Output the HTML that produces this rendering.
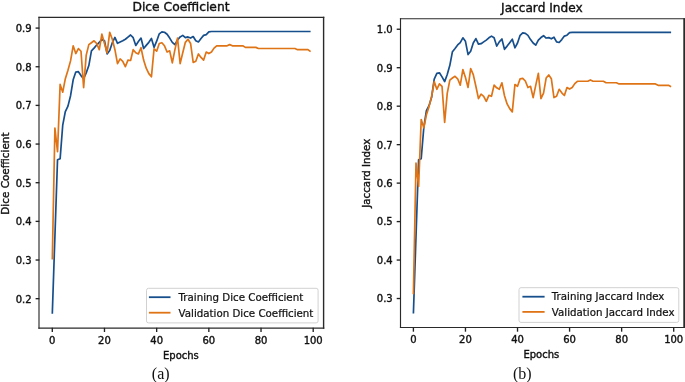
<!DOCTYPE html>
<html lang="en"><head><meta charset="utf-8"><title>Dice Coefficient and Jaccard Index</title>
<style>
html,body{margin:0;padding:0;background:#fff;}
body{width:685px;height:382px;overflow:hidden;}
svg{display:block;}
</style></head><body>
<svg width="685" height="382" viewBox="0 0 685 382">
<rect width="685" height="382" fill="#fff"/>
<polyline points="52.30,313.69 54.91,236.38 57.52,159.84 60.13,158.68 62.74,125.05 65.34,111.53 67.95,106.11 70.56,95.68 73.17,79.83 75.78,72.10 78.39,71.71 81.00,75.58 83.61,78.67 86.22,72.87 88.83,65.53 91.44,50.84 94.04,48.13 96.65,45.04 99.26,42.33 101.87,39.63 104.48,40.79 107.09,53.93 109.70,50.45 112.31,42.72 114.92,37.42 117.52,43.30 120.13,41.95 122.74,40.79 125.35,39.24 127.96,37.08 130.57,34.99 133.18,37.69 135.79,45.42 138.40,41.56 141.01,38.08 143.62,48.52 146.22,45.42 148.83,42.33 151.44,38.47 154.05,47.36 156.66,41.17 159.27,33.83 161.88,31.90 164.49,32.28 167.10,34.21 169.70,38.08 172.31,42.33 174.92,44.65 177.53,40.01 180.14,36.92 182.75,35.37 185.36,37.69 187.97,36.92 190.58,38.08 193.19,36.53 195.80,40.79 198.40,41.95 201.01,38.47 203.62,35.37 206.23,34.60 208.84,31.90 211.45,31.51 214.06,31.51 216.67,31.51 219.28,31.51 221.88,31.51 224.49,31.51 227.10,31.51 229.71,31.51 232.32,31.51 234.93,31.51 237.54,31.51 240.15,31.51 242.76,31.51 245.37,31.51 247.98,31.51 250.58,31.51 253.19,31.51 255.80,31.51 258.41,31.51 261.02,31.51 263.63,31.51 266.24,31.51 268.85,31.51 271.46,31.51 274.06,31.51 276.67,31.51 279.28,31.51 281.89,31.51 284.50,31.51 287.11,31.51 289.72,31.51 292.33,31.51 294.94,31.51 297.55,31.51 300.15,31.51 302.76,31.51 305.37,31.51 307.98,31.51 310.59,31.51" fill="none" stroke="#174f8c" stroke-width="1.7" stroke-linejoin="round" stroke-linecap="butt"/>
<polyline points="52.30,259.57 54.91,128.15 57.52,151.73 60.13,84.47 62.74,92.20 65.34,78.67 67.95,70.16 70.56,60.89 73.17,45.81 75.78,53.54 78.39,48.52 81.00,51.22 83.61,87.56 86.22,55.09 88.83,44.65 91.44,42.72 94.04,40.79 96.65,43.49 99.26,49.68 101.87,34.21 104.48,43.49 107.09,52.77 109.70,32.28 112.31,39.24 114.92,49.68 117.52,63.59 120.13,58.95 122.74,61.27 125.35,66.69 127.96,60.11 130.57,60.50 133.18,49.68 135.79,52.77 138.40,53.93 141.01,47.74 143.62,60.11 146.22,68.23 148.83,73.64 151.44,76.74 154.05,48.90 156.66,51.22 159.27,43.49 161.88,42.72 164.49,45.81 167.10,52.00 169.70,50.84 172.31,62.82 174.92,49.68 177.53,38.08 180.14,63.59 182.75,52.77 185.36,42.33 187.97,39.24 190.58,43.49 193.19,62.43 195.80,61.27 198.40,53.93 201.01,57.41 203.62,60.11 206.23,52.00 208.84,53.54 211.45,52.00 214.06,48.13 216.67,45.81 219.28,45.81 221.88,45.81 224.49,45.81 227.10,45.81 229.71,44.65 232.32,45.81 234.93,45.81 237.54,45.81 240.15,45.81 242.76,45.81 245.37,47.36 247.98,47.36 250.58,47.36 253.19,47.36 255.80,47.36 258.41,48.52 261.02,48.52 263.63,48.52 266.24,48.52 268.85,48.52 271.46,48.52 274.06,48.52 276.67,48.52 279.28,48.52 281.89,48.52 284.50,48.52 287.11,48.52 289.72,48.52 292.33,48.52 294.94,48.52 297.55,49.68 300.15,49.68 302.76,49.68 305.37,49.68 307.98,49.68 310.59,51.61" fill="none" stroke="#df7417" stroke-width="1.7" stroke-linejoin="round" stroke-linecap="butt"/>
<rect x="146.5" y="288.3" width="171.6" height="34.6" rx="2" ry="2" fill="#fff" fill-opacity="0.8" stroke="#ccc" stroke-width="0.9"/>
<line x1="148.9" x2="170.5" y1="297.2" y2="297.2" stroke="#174f8c" stroke-width="1.8"/>
<text x="178.6" y="301.4" font-size="10.25" font-family="DejaVu Sans, Liberation Sans, sans-serif" stroke="#111" stroke-width="0.22" fill="#111">Training Dice Coefficient</text>
<line x1="148.9" x2="170.5" y1="312.7" y2="312.7" stroke="#df7417" stroke-width="1.8"/>
<text x="178.6" y="316.9" font-size="10.25" font-family="DejaVu Sans, Liberation Sans, sans-serif" stroke="#111" stroke-width="0.22" fill="#111">Validation Dice Coefficient</text>
<line x1="39.0" x2="39.0" y1="16.675" y2="328.84999999999997" stroke="#2a2a2a" stroke-width="1.15"/>
<line x1="323.6" x2="323.6" y1="16.675" y2="328.84999999999997" stroke="#2a2a2a" stroke-width="1.4"/>
<line x1="38.425" x2="324.3" y1="17.3" y2="17.3" stroke="#2a2a2a" stroke-width="1.25"/>
<line x1="38.425" x2="324.3" y1="328.15" y2="328.15" stroke="#2a2a2a" stroke-width="1.4"/>
<line x1="52.30" x2="52.30" y1="327.8" y2="332.0" stroke="#222" stroke-width="1.35"/>
<text x="52.30" y="343.90" font-size="10" text-anchor="middle" font-family="DejaVu Sans, Liberation Sans, sans-serif" stroke="#111" stroke-width="0.38" fill="#111">0</text>
<line x1="104.48" x2="104.48" y1="327.8" y2="332.0" stroke="#222" stroke-width="1.35"/>
<text x="104.48" y="343.90" font-size="10" text-anchor="middle" font-family="DejaVu Sans, Liberation Sans, sans-serif" stroke="#111" stroke-width="0.38" fill="#111">20</text>
<line x1="156.66" x2="156.66" y1="327.8" y2="332.0" stroke="#222" stroke-width="1.35"/>
<text x="156.66" y="343.90" font-size="10" text-anchor="middle" font-family="DejaVu Sans, Liberation Sans, sans-serif" stroke="#111" stroke-width="0.38" fill="#111">40</text>
<line x1="208.84" x2="208.84" y1="327.8" y2="332.0" stroke="#222" stroke-width="1.35"/>
<text x="208.84" y="343.90" font-size="10" text-anchor="middle" font-family="DejaVu Sans, Liberation Sans, sans-serif" stroke="#111" stroke-width="0.38" fill="#111">60</text>
<line x1="261.02" x2="261.02" y1="327.8" y2="332.0" stroke="#222" stroke-width="1.35"/>
<text x="261.02" y="343.90" font-size="10" text-anchor="middle" font-family="DejaVu Sans, Liberation Sans, sans-serif" stroke="#111" stroke-width="0.38" fill="#111">80</text>
<line x1="313.20" x2="313.20" y1="327.8" y2="332.0" stroke="#222" stroke-width="1.35"/>
<text x="313.20" y="343.90" font-size="10" text-anchor="middle" font-family="DejaVu Sans, Liberation Sans, sans-serif" stroke="#111" stroke-width="0.38" fill="#111">100</text>
<line x1="35.6" x2="39.4" y1="298.68" y2="298.68" stroke="#222" stroke-width="1.35"/>
<text x="31.60" y="302.53" font-size="10" text-anchor="end" font-family="DejaVu Sans, Liberation Sans, sans-serif" stroke="#111" stroke-width="0.38" fill="#111">0.2</text>
<line x1="35.6" x2="39.4" y1="260.02" y2="260.02" stroke="#222" stroke-width="1.35"/>
<text x="31.60" y="263.87" font-size="10" text-anchor="end" font-family="DejaVu Sans, Liberation Sans, sans-serif" stroke="#111" stroke-width="0.38" fill="#111">0.3</text>
<line x1="35.6" x2="39.4" y1="221.37" y2="221.37" stroke="#222" stroke-width="1.35"/>
<text x="31.60" y="225.22" font-size="10" text-anchor="end" font-family="DejaVu Sans, Liberation Sans, sans-serif" stroke="#111" stroke-width="0.38" fill="#111">0.4</text>
<line x1="35.6" x2="39.4" y1="182.71" y2="182.71" stroke="#222" stroke-width="1.35"/>
<text x="31.60" y="186.56" font-size="10" text-anchor="end" font-family="DejaVu Sans, Liberation Sans, sans-serif" stroke="#111" stroke-width="0.38" fill="#111">0.5</text>
<line x1="35.6" x2="39.4" y1="144.06" y2="144.06" stroke="#222" stroke-width="1.35"/>
<text x="31.60" y="147.91" font-size="10" text-anchor="end" font-family="DejaVu Sans, Liberation Sans, sans-serif" stroke="#111" stroke-width="0.38" fill="#111">0.6</text>
<line x1="35.6" x2="39.4" y1="105.40" y2="105.40" stroke="#222" stroke-width="1.35"/>
<text x="31.60" y="109.25" font-size="10" text-anchor="end" font-family="DejaVu Sans, Liberation Sans, sans-serif" stroke="#111" stroke-width="0.38" fill="#111">0.7</text>
<line x1="35.6" x2="39.4" y1="66.75" y2="66.75" stroke="#222" stroke-width="1.35"/>
<text x="31.60" y="70.60" font-size="10" text-anchor="end" font-family="DejaVu Sans, Liberation Sans, sans-serif" stroke="#111" stroke-width="0.38" fill="#111">0.8</text>
<line x1="35.6" x2="39.4" y1="28.09" y2="28.09" stroke="#222" stroke-width="1.35"/>
<text x="31.60" y="31.94" font-size="10" text-anchor="end" font-family="DejaVu Sans, Liberation Sans, sans-serif" stroke="#111" stroke-width="0.38" fill="#111">0.9</text>
<text x="181.00" y="10.7" font-size="12.3" text-anchor="middle" font-family="DejaVu Sans, Liberation Sans, sans-serif" stroke="#111" stroke-width="0.38" fill="#111">Dice Coefficient</text>
<text x="180.90" y="358.60" font-size="10" text-anchor="middle" font-family="DejaVu Sans, Liberation Sans, sans-serif" stroke="#111" stroke-width="0.38" fill="#111">Epochs</text>
<text transform="translate(9.2,173.60) rotate(-90)" font-size="10.45" text-anchor="middle" font-family="DejaVu Sans, Liberation Sans, sans-serif" stroke="#111" stroke-width="0.38" fill="#111">Dice Coefficient</text>
<polyline points="413.40,313.46 416.00,236.52 418.61,159.82 421.21,158.70 423.81,127.50 426.41,110.73 429.02,105.73 431.62,97.27 434.22,79.19 436.83,73.42 439.43,72.80 442.03,76.88 444.64,81.61 447.24,74.57 449.84,65.34 452.44,51.68 455.05,48.41 457.65,44.95 460.25,42.64 462.86,37.80 465.46,41.30 468.06,54.57 470.67,51.30 473.27,43.03 475.87,38.60 478.47,44.18 481.08,43.68 483.68,41.87 486.28,40.14 488.89,37.80 491.49,36.10 494.09,37.80 496.70,46.10 499.30,41.87 501.90,38.99 504.50,49.34 507.11,46.10 509.71,42.64 512.31,39.18 514.92,47.80 517.52,43.03 520.12,35.33 522.73,32.83 525.33,33.41 527.93,35.33 530.53,39.57 533.14,43.03 535.74,45.18 538.34,40.14 540.95,37.53 543.55,35.72 546.15,38.03 548.76,37.64 551.36,38.80 553.96,37.26 556.57,41.87 559.17,42.49 561.77,39.57 564.37,36.10 566.98,35.22 569.58,32.64 572.18,32.45 574.79,32.45 577.39,32.45 579.99,32.45 582.60,32.45 585.20,32.45 587.80,32.45 590.40,32.45 593.01,32.45 595.61,32.45 598.21,32.45 600.82,32.45 603.42,32.45 606.02,32.45 608.62,32.45 611.23,32.45 613.83,32.45 616.43,32.45 619.04,32.45 621.64,32.45 624.24,32.45 626.85,32.45 629.45,32.45 632.05,32.45 634.65,32.45 637.26,32.45 639.86,32.45 642.46,32.45 645.07,32.45 647.67,32.45 650.27,32.45 652.88,32.45 655.48,32.45 658.08,32.45 660.68,32.45 663.29,32.45 665.89,32.45 668.49,32.45 671.10,32.45" fill="none" stroke="#174f8c" stroke-width="1.7" stroke-linejoin="round" stroke-linecap="butt"/>
<polyline points="413.40,294.22 416.00,163.05 418.61,186.51 421.21,119.58 423.81,127.81 426.41,114.85 429.02,106.62 431.62,96.50 434.22,81.61 436.83,89.27 439.43,83.80 442.03,86.30 444.64,122.50 447.24,93.42 449.84,80.07 452.44,78.03 455.05,76.30 457.65,78.80 460.25,85.11 462.86,69.57 465.46,77.46 468.06,87.50 470.67,68.61 473.27,74.57 475.87,86.30 478.47,98.61 481.08,94.19 483.68,96.31 486.28,101.31 488.89,95.34 491.49,96.31 494.09,85.11 496.70,87.80 499.30,89.27 501.90,82.77 504.50,95.73 507.11,103.92 509.71,108.65 512.31,111.89 514.92,84.57 517.52,86.30 520.12,78.80 522.73,78.42 525.33,81.00 527.93,87.50 530.53,86.30 533.14,97.65 535.74,85.34 538.34,73.42 540.95,98.61 543.55,93.04 546.15,78.03 548.76,74.96 551.36,78.80 553.96,97.58 556.57,96.31 559.17,89.27 561.77,92.81 564.37,95.50 566.98,87.50 569.58,89.04 572.18,87.50 574.79,83.61 577.39,81.26 579.99,81.26 582.60,81.26 585.20,81.26 587.80,81.26 590.40,79.96 593.01,81.26 595.61,81.26 598.21,81.26 600.82,81.26 603.42,81.26 606.02,82.77 608.62,82.77 611.23,82.77 613.83,82.77 616.43,82.77 619.04,83.96 621.64,83.96 624.24,83.96 626.85,83.96 629.45,83.96 632.05,83.96 634.65,83.96 637.26,83.96 639.86,83.96 642.46,83.96 645.07,83.96 647.67,83.96 650.27,83.96 652.88,83.96 655.48,83.96 658.08,85.34 660.68,85.34 663.29,85.34 665.89,85.34 668.49,85.34 671.10,86.69" fill="none" stroke="#df7417" stroke-width="1.7" stroke-linejoin="round" stroke-linecap="butt"/>
<rect x="519.0" y="287.7" width="159.8" height="34.7" rx="2" ry="2" fill="#fff" fill-opacity="0.8" stroke="#ccc" stroke-width="0.9"/>
<line x1="522.4" x2="544.6" y1="296.7" y2="296.7" stroke="#174f8c" stroke-width="1.8"/>
<text x="551.8" y="300.4" font-size="10.25" font-family="DejaVu Sans, Liberation Sans, sans-serif" stroke="#111" stroke-width="0.22" fill="#111">Training Jaccard Index</text>
<line x1="522.4" x2="544.6" y1="311.9" y2="311.9" stroke="#df7417" stroke-width="1.8"/>
<text x="551.8" y="315.59999999999997" font-size="10.25" font-family="DejaVu Sans, Liberation Sans, sans-serif" stroke="#111" stroke-width="0.22" fill="#111">Validation Jaccard Index</text>
<line x1="400.5" x2="400.5" y1="18.175" y2="328.075" stroke="#2a2a2a" stroke-width="1.15"/>
<line x1="684.2" x2="684.2" y1="18.175" y2="328.075" stroke="#2a2a2a" stroke-width="1.8"/>
<line x1="399.925" x2="685.1" y1="18.75" y2="18.75" stroke="#2a2a2a" stroke-width="1.15"/>
<line x1="399.925" x2="685.1" y1="327.5" y2="327.5" stroke="#2a2a2a" stroke-width="1.15"/>
<line x1="413.40" x2="413.40" y1="327.5" y2="331.7" stroke="#222" stroke-width="1.35"/>
<text x="413.40" y="342.70" font-size="10" text-anchor="middle" font-family="DejaVu Sans, Liberation Sans, sans-serif" stroke="#111" stroke-width="0.38" fill="#111">0</text>
<line x1="465.46" x2="465.46" y1="327.5" y2="331.7" stroke="#222" stroke-width="1.35"/>
<text x="465.46" y="342.70" font-size="10" text-anchor="middle" font-family="DejaVu Sans, Liberation Sans, sans-serif" stroke="#111" stroke-width="0.38" fill="#111">20</text>
<line x1="517.52" x2="517.52" y1="327.5" y2="331.7" stroke="#222" stroke-width="1.35"/>
<text x="517.52" y="342.70" font-size="10" text-anchor="middle" font-family="DejaVu Sans, Liberation Sans, sans-serif" stroke="#111" stroke-width="0.38" fill="#111">40</text>
<line x1="569.58" x2="569.58" y1="327.5" y2="331.7" stroke="#222" stroke-width="1.35"/>
<text x="569.58" y="342.70" font-size="10" text-anchor="middle" font-family="DejaVu Sans, Liberation Sans, sans-serif" stroke="#111" stroke-width="0.38" fill="#111">60</text>
<line x1="621.64" x2="621.64" y1="327.5" y2="331.7" stroke="#222" stroke-width="1.35"/>
<text x="621.64" y="342.70" font-size="10" text-anchor="middle" font-family="DejaVu Sans, Liberation Sans, sans-serif" stroke="#111" stroke-width="0.38" fill="#111">80</text>
<line x1="673.70" x2="673.70" y1="327.5" y2="331.7" stroke="#222" stroke-width="1.35"/>
<text x="673.70" y="342.70" font-size="10" text-anchor="middle" font-family="DejaVu Sans, Liberation Sans, sans-serif" stroke="#111" stroke-width="0.38" fill="#111">100</text>
<line x1="396.7" x2="400.5" y1="298.52" y2="298.52" stroke="#222" stroke-width="1.35"/>
<text x="392.70" y="302.37" font-size="10" text-anchor="end" font-family="DejaVu Sans, Liberation Sans, sans-serif" stroke="#111" stroke-width="0.38" fill="#111">0.3</text>
<line x1="396.7" x2="400.5" y1="260.05" y2="260.05" stroke="#222" stroke-width="1.35"/>
<text x="392.70" y="263.90" font-size="10" text-anchor="end" font-family="DejaVu Sans, Liberation Sans, sans-serif" stroke="#111" stroke-width="0.38" fill="#111">0.4</text>
<line x1="396.7" x2="400.5" y1="221.59" y2="221.59" stroke="#222" stroke-width="1.35"/>
<text x="392.70" y="225.44" font-size="10" text-anchor="end" font-family="DejaVu Sans, Liberation Sans, sans-serif" stroke="#111" stroke-width="0.38" fill="#111">0.5</text>
<line x1="396.7" x2="400.5" y1="183.12" y2="183.12" stroke="#222" stroke-width="1.35"/>
<text x="392.70" y="186.97" font-size="10" text-anchor="end" font-family="DejaVu Sans, Liberation Sans, sans-serif" stroke="#111" stroke-width="0.38" fill="#111">0.6</text>
<line x1="396.7" x2="400.5" y1="144.65" y2="144.65" stroke="#222" stroke-width="1.35"/>
<text x="392.70" y="148.50" font-size="10" text-anchor="end" font-family="DejaVu Sans, Liberation Sans, sans-serif" stroke="#111" stroke-width="0.38" fill="#111">0.7</text>
<line x1="396.7" x2="400.5" y1="106.18" y2="106.18" stroke="#222" stroke-width="1.35"/>
<text x="392.70" y="110.03" font-size="10" text-anchor="end" font-family="DejaVu Sans, Liberation Sans, sans-serif" stroke="#111" stroke-width="0.38" fill="#111">0.8</text>
<line x1="396.7" x2="400.5" y1="67.71" y2="67.71" stroke="#222" stroke-width="1.35"/>
<text x="392.70" y="71.56" font-size="10" text-anchor="end" font-family="DejaVu Sans, Liberation Sans, sans-serif" stroke="#111" stroke-width="0.38" fill="#111">0.9</text>
<line x1="396.7" x2="400.5" y1="29.24" y2="29.24" stroke="#222" stroke-width="1.35"/>
<text x="392.70" y="33.09" font-size="10" text-anchor="end" font-family="DejaVu Sans, Liberation Sans, sans-serif" stroke="#111" stroke-width="0.38" fill="#111">1.0</text>
<text x="541.85" y="12.3" font-size="12.15" text-anchor="middle" font-family="DejaVu Sans, Liberation Sans, sans-serif" stroke="#111" stroke-width="0.38" fill="#111">Jaccard Index</text>
<text x="541.35" y="357.90" font-size="10" text-anchor="middle" font-family="DejaVu Sans, Liberation Sans, sans-serif" stroke="#111" stroke-width="0.38" fill="#111">Epochs</text>
<text transform="translate(370.3,173.25) rotate(-90)" font-size="10.27" text-anchor="middle" font-family="DejaVu Sans, Liberation Sans, sans-serif" stroke="#111" stroke-width="0.38" fill="#111">Jaccard Index</text>
<text x="160.7" y="378.8" font-size="16" text-anchor="middle" font-family="Liberation Serif, Times New Roman, serif" fill="#111">(a)</text>
<text x="522.3" y="378.8" font-size="16" text-anchor="middle" font-family="Liberation Serif, Times New Roman, serif" fill="#111">(b)</text>
</svg>
</body></html>
